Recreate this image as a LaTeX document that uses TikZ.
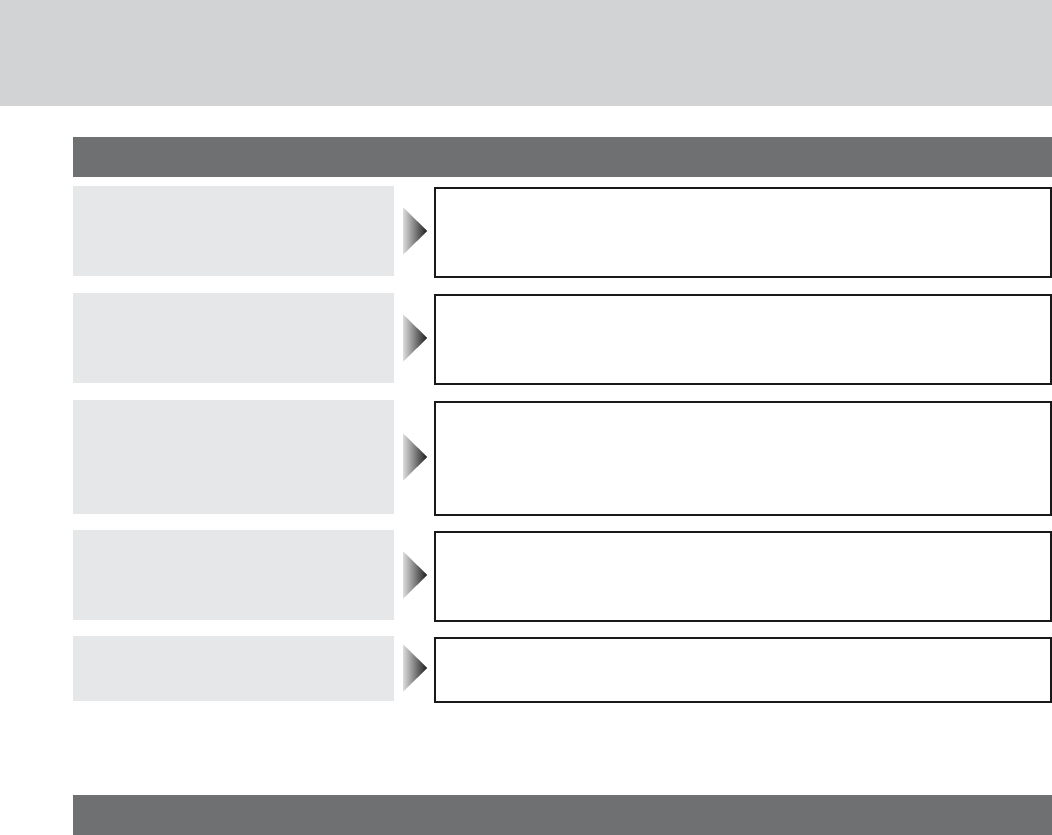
\documentclass[tikz,border=0pt]{standalone}
\usetikzlibrary{shapes.geometric}

\definecolor{bandgrey}{HTML}{D2D3D5}
\definecolor{bargrey}{HTML}{6F7072}
\definecolor{boxgrey}{HTML}{E6E7E8}

\tikzset{
    leftbox/.style={fill=boxgrey, anchor=north west, minimum width=321pt, inner sep=0pt},
    rightbox/.style={draw=black!90, line width=2.2pt, anchor=north west, minimum width=616pt, inner sep=0pt},
    arrowtip/.style={isosceles triangle, isosceles triangle stretches, minimum width=47pt,
        minimum height=24pt, inner sep=0pt, anchor=west, left color=white!85!black, right color=black!90}
}

\begin{document}
\begin{tikzpicture}[x=1pt, y=-1pt]
        \useasboundingbox (0,0) rectangle (1052,835);

        \fill [bandgrey] (0,0) rectangle (1052,106);
        \fill [bargrey] (73,137) rectangle (1052,177);
        \fill [bargrey] (73,795) rectangle (1052,835);

        \node [leftbox, minimum height=90pt] (l1) at (73,186) {};
        \node [leftbox, minimum height=90pt] (l2) at (73,293) {};
        \node [leftbox, minimum height=114pt] (l3) at (73,400) {};
        \node [leftbox, minimum height=90pt] (l4) at (73,530) {};
        \node [leftbox, minimum height=65pt] (l5) at (73,636) {};

        \node [rightbox, minimum height=89pt] (r1) at (434,187) {};
        \node [rightbox, minimum height=89pt] (r2) at (434,294) {};
        \node [rightbox, minimum height=113pt] (r3) at (434,401) {};
        \node [rightbox, minimum height=89pt] (r4) at (434,531) {};
        \node [rightbox, minimum height=64pt] (r5) at (434,637) {};

        \node [arrowtip] (a1) at (403,231) {};
        \node [arrowtip] (a2) at (403,338) {};
        \node [arrowtip] (a3) at (403,457) {};
        \node [arrowtip] (a4) at (403,575) {};
        \node [arrowtip] (a5) at (403,668) {};

    \end{tikzpicture}
\end{document}
